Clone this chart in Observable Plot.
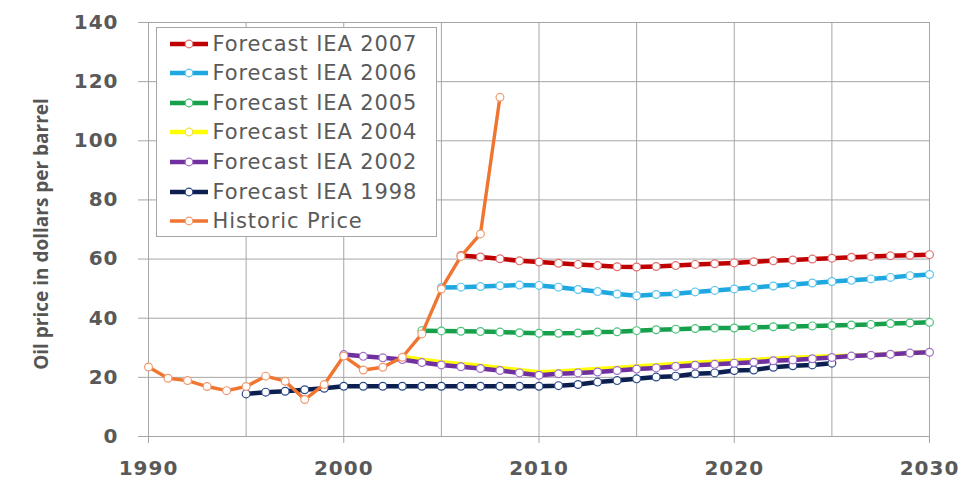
<!DOCTYPE html>
<html>
<head>
<meta charset="utf-8">
<script src="https://cdn.jsdelivr.net/npm/d3@7"></script>
<script src="https://cdn.jsdelivr.net/npm/@observablehq/plot@0.6"></script>
<style>
  body { margin: 0; background: #fff; }
  #wrap { position: relative; width: 961px; height: 494px; overflow: hidden; }
  #legend { position: absolute; left: 156px; top: 27px; width: 281px; height: 210px;
            border: 1.5px solid #a6a6a6; background: #fff; box-sizing: border-box; }
  .row { position: absolute; left: 0; height: 30px; display: flex; align-items: center;
         font-family: "DejaVu Sans", sans-serif; font-size: 21px; letter-spacing: 0.9px;
         color: #5a5a5a; white-space: nowrap; }
  .row svg { margin-left: 12.5px; margin-right: 5px; }
  #ylabel { position: absolute; left: 41px; top: 234px; transform: translate(-50%, -50%) rotate(-90deg);
            white-space: nowrap; font-family: "Open Sans", sans-serif; font-weight: 700; font-size: 19px; color: #555; }
  svg text { letter-spacing: 1px; }
</style>
</head>
<body>
<div id="wrap">
  <div id="chart"></div>
  <div id="ylabel">Oil price in dollars per barrel</div>
  <div id="legend"></div>
</div>
<script>
// ---- data ----
const xTickLabels = [1990, 2000, 2010, 2020, 2030];
const xGridYears = [1990, 1995, 2000, 2005, 2010, 2015, 2020, 2025, 2030];
const yTickLabels = [0, 20, 40, 60, 80, 100, 120, 140];

const historicStart = 1990;
const historic = [23.5, 19.7, 18.9, 16.9, 15.5, 16.9, 20.4, 18.7, 12.5, 17.6,
                  27.2, 22.5, 23.4, 26.8, 34.7, 49.9, 60.9, 68.5, 114.7];

const iea1998Start = 1995;
const iea1998 = [14.4, 15.0, 15.3, 15.8, 16.3, 17.0, 17.0, 17.0, 17.0, 17.0,
                 17.0, 17.0, 17.0, 17.0, 17.0, 17.0, 17.2, 17.6, 18.4, 18.9,
                 19.5, 20.1, 20.4, 21.2, 21.5, 22.3, 22.5, 23.4, 23.9, 24.2, 24.8];

const iea2002Start = 2000;
const iea2002 = [27.7, 27.1, 26.6, 26.0, 25.0, 24.2, 23.6, 23.0, 22.3, 21.5,
                 20.7, 21.2, 21.5, 21.8, 22.3, 22.8, 23.2, 23.7, 24.1, 24.4,
                 24.8, 25.1, 25.6, 25.9, 26.3, 26.7, 27.2, 27.5, 27.8, 28.2, 28.5];

const iea2004Start = 2003;
const iea2004 = [27.0, 26.0, 25.1, 24.5, 23.9, 23.2, 22.4, 21.7, 22.0, 22.4,
                 22.8, 23.2, 23.7, 24.1, 24.5, 24.9, 25.3, 25.6, 25.9, 26.3,
                 26.6, 26.9, 27.1, 27.3, 27.5, 27.8, 28.2, 28.5];

const iea2005Start = 2004;
const iea2005 = [35.8, 35.7, 35.6, 35.5, 35.3, 35.1, 34.9, 34.9, 35.0, 35.3,
                 35.4, 35.8, 36.1, 36.3, 36.5, 36.7, 36.7, 36.9, 37.1, 37.2,
                 37.4, 37.5, 37.7, 37.9, 38.2, 38.4, 38.6];

const iea2006Start = 2005;
const iea2006 = [50.4, 50.5, 50.7, 51.0, 51.2, 51.1, 50.5, 49.7, 49.0, 48.2,
                 47.6, 48.0, 48.3, 48.9, 49.4, 49.9, 50.4, 50.9, 51.4, 51.9,
                 52.4, 52.8, 53.3, 53.8, 54.4, 54.8];

const iea2007Start = 2006;
const iea2007 = [61.2, 60.7, 60.1, 59.4, 59.0, 58.6, 58.2, 57.8, 57.4, 57.3,
                 57.5, 57.8, 58.2, 58.4, 58.7, 59.1, 59.4, 59.7, 60.0, 60.3,
                 60.6, 60.9, 61.1, 61.3, 61.5];

const seriesNames = ["Forecast IEA 2007", "Forecast IEA 2006", "Forecast IEA 2005",
                     "Forecast IEA 2004", "Forecast IEA 2002", "Forecast IEA 1998", "Historic Price"];

// ---- styles ----
const styles = {
  "Forecast IEA 2007": {color: "#c00000", marker: "#e07070", width: 4.5, dots: true},
  "Forecast IEA 2006": {color: "#1fa8e0", marker: "#5cc4ee", width: 4.5, dots: true},
  "Forecast IEA 2005": {color: "#16a04c", marker: "#4cc27a", width: 4.5, dots: true},
  "Forecast IEA 2004": {color: "#ffff00", marker: "#f0e040", width: 4.5, dots: false},
  "Forecast IEA 2002": {color: "#7030a0", marker: "#a070c8", width: 4.5, dots: true},
  "Forecast IEA 1998": {color: "#0c1f4f", marker: "#2a4a8a", width: 4.5, dots: true},
  "Historic Price":    {color: "#f07530", marker: "#f09a70", width: 3.4, dots: true}
};

function rows(start, values) {
  return values.map((v, i) => ({year: start + i, value: v}));
}

const drawOrder = [
  ["Forecast IEA 1998", rows(iea1998Start, iea1998)],
  ["Forecast IEA 2004", rows(iea2004Start, iea2004)],
  ["Forecast IEA 2002", rows(iea2002Start, iea2002)],
  ["Forecast IEA 2005", rows(iea2005Start, iea2005)],
  ["Forecast IEA 2006", rows(iea2006Start, iea2006)],
  ["Forecast IEA 2007", rows(iea2007Start, iea2007)],
  ["Historic Price", rows(historicStart, historic)]
];

const seriesMarks = [];
for (const [name, data] of drawOrder) {
  const s = styles[name];
  seriesMarks.push(Plot.line(data, {x: "year", y: "value", stroke: s.color, strokeWidth: s.width,
                                    strokeLinejoin: "round", strokeLinecap: "butt"}));
  if (s.dots) {
    seriesMarks.push(Plot.dot(data, {x: "year", y: "value", r: 3.9, fill: "white",
                                     stroke: s.marker, strokeWidth: 1.2}));
  }
}

const gridColor = "#a6a6a6";
const chart = Plot.plot({
  width: 961,
  height: 494,
  marginLeft: 148,
  marginRight: 32,
  marginTop: 22,
  marginBottom: 58,
  x: {domain: [1990, 2030]},
  y: {domain: [0, 140]},
  style: {background: "white", fontFamily: "DejaVu Sans", color: "#595959"},
  marks: [
    Plot.gridX(xGridYears, {stroke: gridColor, strokeOpacity: 1, strokeWidth: 1}),
    Plot.gridY(yTickLabels, {stroke: gridColor, strokeOpacity: 1, strokeWidth: 1}),
    Plot.axisY(yTickLabels, {tickSize: 10, tickPadding: 20, stroke: gridColor, fill: "#595959",
                             fontSize: 20, fontWeight: "bold", label: null}),
    Plot.axisX(xTickLabels, {tickSize: 7, tickPadding: 17, stroke: gridColor, fill: "#595959",
                             fontSize: 20, fontWeight: "bold", label: null, tickFormat: d => String(d)}),
    Plot.ruleY([0], {stroke: gridColor}),
    ...seriesMarks
  ]
});
document.getElementById("chart").appendChild(chart);

// ---- legend ----
const legend = document.getElementById("legend");
seriesNames.forEach((name, i) => {
  const s = styles[name];
  const row = document.createElement("div");
  row.className = "row";
  row.style.top = (0.5 + i * 29.6) + "px";
  row.innerHTML =
    `<svg width="38" height="12" viewBox="0 0 38 12">
       <line x1="0" y1="6" x2="38" y2="6" stroke="${s.color}" stroke-width="${s.width < 4 ? 3.5 : 4.5}"/>
       <circle cx="19" cy="6" r="3.8" fill="white" stroke="${s.marker}" stroke-width="1.2"/>
     </svg><span>${name}</span>`;
  legend.appendChild(row);
});
</script>
</body>
</html>
